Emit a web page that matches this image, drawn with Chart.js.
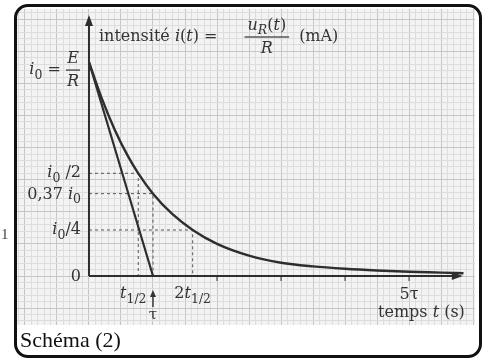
<!DOCTYPE html>
<html>
<head>
<meta charset="utf-8">
<script src="https://cdn.jsdelivr.net/npm/chart.js@4"></script>
<style>
  html, body { margin: 0; padding: 0; background: #fff; }
  body { width: 489px; height: 363px; position: relative; overflow: hidden; }
  #c { position: absolute; left: 0; top: 0; }
  #frame {
    position: absolute; left: 14px; top: 4px; width: 462px; height: 348px;
    border: 3px solid #111; border-radius: 14px; pointer-events: none;
  }
  #caption {
    position: absolute; left: 20px; top: 327px;
    font-family: "Liberation Serif", serif; font-size: 22px; color: #111;
  }
  #stray { position: absolute; left: 1px; top: 226px; font: 15px "Liberation Serif", serif; color: #444; }
</style>
</head>
<body>
<canvas id="c" width="489" height="363"></canvas>
<div id="frame"></div>
<div id="caption">Schéma (2)</div>
<div id="stray">1</div>
<script>
// values, t in units of tau, i in units of i0
const tVals = [0, 0.2, 0.4, 0.6, 0.77, 1, 1.3, 1.62, 2, 2.5, 3, 3.5, 4, 4.5, 5, 5.5, 5.85];
const iVals = [1.0, 0.83, 0.685, 0.565, 0.48, 0.385, 0.29, 0.215, 0.15, 0.095, 0.062, 0.045, 0.034, 0.026, 0.02, 0.016, 0.013];

// tangent at t = 0
const tangentT = [0, 1];
const tangentI = [1, 0];

// guide points (dotted lines)
const guideT = [0.77, 1, 1.62];
const guideI = [0.48, 0.385, 0.215];

// axis extents
const xAxisEnd = 5.84;
const yAxisEnd = 1.22;
const xTicks = [2, 3, 4, 5];

const ink = '#2e2e2e';

function pts(xs, ys) {
  return xs.map((x, k) => ({ x: x, y: ys[k] }));
}

function guide(k) {
  return {
    data: [{ x: 0, y: guideI[k] }, { x: guideT[k], y: guideI[k] }, { x: guideT[k], y: 0 }],
    borderColor: '#555', borderWidth: 1, borderDash: [3, 3], pointRadius: 0, tension: 0
  };
}

// text helpers
function font(style, size) {
  return (style.indexOf('i') >= 0 ? 'italic ' : '') + size + 'px "DejaVu Serif", serif';
}
function runsWidth(ctx, runs, size) {
  let w = 0;
  runs.forEach(r => {
    const sub = r[1].indexOf('s') >= 0;
    ctx.font = font(r[1], sub ? size * 0.78 : size);
    w += ctx.measureText(r[0]).width;
  });
  return w;
}
function drawRuns(ctx, runs, x, y, size, align) {
  const w = runsWidth(ctx, runs, size);
  let cx = align === 'right' ? x - w : align === 'center' ? x - w / 2 : x;
  ctx.textBaseline = 'middle';
  ctx.textAlign = 'left';
  runs.forEach(r => {
    const sub = r[1].indexOf('s') >= 0;
    ctx.font = font(r[1], sub ? size * 0.78 : size);
    ctx.fillText(r[0], cx, sub ? y + size * 0.35 : y);
    cx += ctx.measureText(r[0]).width;
  });
  return w;
}
function drawFrac(ctx, num, den, x, y, size, extra) {
  const w = Math.max(runsWidth(ctx, num, size), runsWidth(ctx, den, size)) + (extra || 2);
  drawRuns(ctx, num, x + w / 2, y - size * 0.72, size, 'center');
  drawRuns(ctx, den, x + w / 2, y + size * 0.75, size, 'center');
  ctx.fillRect(x, y - 0.6, w, 1.2);
  return w;
}

const paper = {
  id: 'paper',
  beforeDraw(chart) {
    const a = chart.chartArea, ctx = chart.ctx;
    ctx.save();
    ctx.fillStyle = '#f3f3f3';
    ctx.fillRect(a.left, a.top, a.right - a.left, a.bottom - a.top);
    ctx.restore();
  }
};

const annotations = {
  id: 'annotations',
  afterDatasetsDraw(chart) {
    const ctx = chart.ctx, xs = chart.scales.x, ys = chart.scales.y;
    const x0 = xs.getPixelForValue(0), y0 = ys.getPixelForValue(0);
    const xEnd = xs.getPixelForValue(xAxisEnd), yEnd = ys.getPixelForValue(yAxisEnd);
    ctx.save();
    ctx.strokeStyle = ink; ctx.fillStyle = ink; ctx.lineWidth = 2;
    // axes
    ctx.beginPath();
    ctx.moveTo(x0, y0); ctx.lineTo(x0, yEnd + 4);
    ctx.moveTo(x0, y0); ctx.lineTo(xEnd - 4, y0);
    ctx.stroke();
    ctx.beginPath();
    ctx.moveTo(x0, yEnd); ctx.lineTo(x0 - 4, yEnd + 11); ctx.lineTo(x0 + 4, yEnd + 11); ctx.closePath();
    ctx.moveTo(xEnd, y0); ctx.lineTo(xEnd - 11, y0 - 4); ctx.lineTo(xEnd - 11, y0 + 4); ctx.closePath();
    ctx.fill();
    ctx.lineWidth = 1;
    xTicks.forEach(t => {
      const px = xs.getPixelForValue(t);
      ctx.beginPath(); ctx.moveTo(px, y0); ctx.lineTo(px, y0 + 5); ctx.stroke();
    });

    const s = 16;
    ctx.fillStyle = '#333';
    // y labels
    const lx = x0 - 8;
    const yTop = ys.getPixelForValue(1) + 8;
    drawFrac(ctx, [['E', 'i']], [['R', 'i']], lx - 15, yTop, s);
    drawRuns(ctx, [['i', 'i'], ['0', 's'], [' = ', 'n']], lx - 15, yTop, s, 'right');
    drawRuns(ctx, [['i', 'i'], ['0', 's'], [' /2', 'n']], lx, ys.getPixelForValue(guideI[0]), s, 'right');
    drawRuns(ctx, [['0,37 ', 'n'], ['i', 'i'], ['0', 's']], lx, ys.getPixelForValue(guideI[1]) + 1, s, 'right');
    drawRuns(ctx, [['i', 'i'], ['0', 's'], ['/4', 'n']], lx, ys.getPixelForValue(guideI[2]), s, 'right');
    drawRuns(ctx, [['0', 'n']], lx, y0 + 1, s, 'right');

    // x labels
    drawRuns(ctx, [['t', 'i'], ['1/2', 's']], xs.getPixelForValue(guideT[0]) - 5, y0 + 18, s, 'center');
    drawRuns(ctx, [['2', 'n'], ['t', 'i'], ['1/2', 's']], xs.getPixelForValue(guideT[2]), y0 + 18, s, 'center');
    const tp = xs.getPixelForValue(1);
    ctx.lineWidth = 1.4;
    ctx.beginPath(); ctx.moveTo(tp, y0 + 31); ctx.lineTo(tp, y0 + 19); ctx.stroke();
    ctx.beginPath(); ctx.moveTo(tp, y0 + 14); ctx.lineTo(tp - 3, y0 + 21); ctx.lineTo(tp + 3, y0 + 21); ctx.closePath(); ctx.fill();
    drawRuns(ctx, [['τ', 'n']], tp, y0 + 39, 15, 'center');
    drawRuns(ctx, [['5τ', 'n']], xs.getPixelForValue(5), y0 + 19, s, 'center');
    drawRuns(ctx, [['temps ', 'n'], ['t', 'i'], [' (s)', 'n']], xEnd + 2, y0 + 37, s, 'right');

    // title
    const ty = ys.getPixelForValue(yAxisEnd) + 22;
    let cx = x0 + 10;
    cx += drawRuns(ctx, [['intensité ', 'n'], ['i', 'i'], ['(', 'n'], ['t', 'i'], [') = ', 'n']], cx, ty, s, 'left');
    cx += 22;
    cx += drawFrac(ctx, [['u', 'i'], ['R', 'si'], ['(', 'n'], ['t', 'i'], [')', 'n']], [['R', 'i']], cx, ty, s, 6);
    drawRuns(ctx, [['(mA)', 'n']], cx + 10, ty, s, 'left');
    ctx.restore();
  }
};

function gridTicks(step) {
  return function (scale) {
    const ticks = [];
    const start = Math.ceil(scale.min / step), end = Math.floor(scale.max / step);
    for (let k = start; k <= end; k++) ticks.push({ value: k * step });
    scale.ticks = ticks;
  };
}
function gridColor(step) {
  return function (c) {
    const n = Math.round(c.tick.value / step);
    return n % 5 === 0 ? '#c6c6c6' : '#dddddd';
  };
}

new Chart(document.getElementById('c'), {
  type: 'line',
  data: {
    datasets: [
      { data: pts(tVals, iVals), borderColor: ink, borderWidth: 2.4, pointRadius: 0, cubicInterpolationMode: 'monotone' },
      { data: pts(tangentT, tangentI), borderColor: ink, borderWidth: 2.2, pointRadius: 0, tension: 0 },
      guide(0), guide(1), guide(2)
    ]
  },
  options: {
    responsive: false,
    animation: false,
    events: [],
    layout: { padding: { left: 16, top: 9, right: 14, bottom: 38 } },
    plugins: { legend: { display: false }, tooltip: { enabled: false } },
    scales: {
      x: {
        type: 'linear', min: -1.14, max: 6.03,
        afterBuildTicks: gridTicks(0.1),
        ticks: { display: false },
        border: { display: false },
        grid: { color: gridColor(0.1), lineWidth: 1, drawTicks: false }
      },
      y: {
        type: 'linear', min: -0.229, max: 1.248,
        afterBuildTicks: gridTicks(0.03),
        ticks: { display: false },
        border: { display: false },
        grid: { color: gridColor(0.03), lineWidth: 1, drawTicks: false }
      }
    }
  },
  plugins: [paper, annotations]
});
</script>
</body>
</html>
